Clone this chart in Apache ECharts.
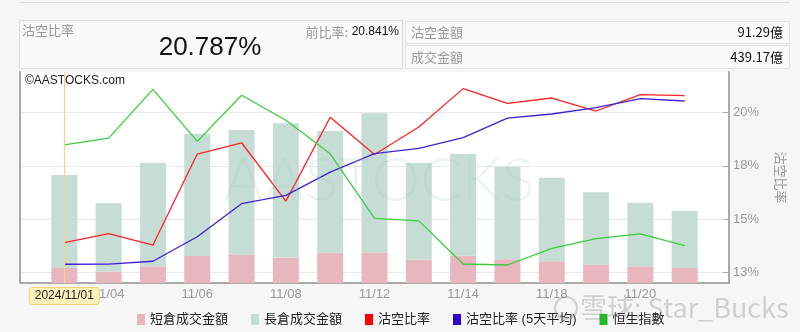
<!DOCTYPE html>
<html>
<head>
<meta charset="utf-8">
<script src="https://cdn.jsdelivr.net/npm/echarts@6/dist/echarts.min.js"></script>
<style>
  html, body { margin: 0; padding: 0; background: #f6f6f6; }
  #main { width: 800px; height: 332px; }
</style>
</head>
<body>
<div id="main"></div>
<script>
// 日期
var dates = ['11/01', '11/04', '11/05', '11/06', '11/07', '11/08', '11/11', '11/12', '11/13', '11/14', '11/15', '11/18', '11/19', '11/20', '11/21'];
// 短倉 / 長倉成交金額 (億)
var shortAmt = [92, 70, 102, 165, 173, 155, 184, 187, 142, 166, 145, 133, 111, 102, 91.29];
var longAmt = [567, 416, 632, 746, 760, 819, 743, 848, 592, 621, 564, 509, 442, 388, 347.88];
// 沽空比率 (%)
var shortRatio = [13.89, 14.32, 13.78, 18.05, 18.58, 15.84, 19.78, 18.03, 19.32, 21.12, 20.43, 20.68, 20.07, 20.841, 20.787];
// 沽空比率 5天平均 (%)
var ratioAvg5 = [12.88, 12.89, 13.02, 14.17, 15.72, 16.11, 17.20, 18.07, 18.32, 18.82, 19.74, 19.93, 20.23, 20.65, 20.54];
// 恒生指數
var hsi = [20506, 20567, 21006, 20538, 20953, 20728, 20426, 19846, 19823, 19435, 19426, 19576, 19663, 19705, 19601];
// 右軸刻度
var ratioTicks = [12.5, 15, 17.5, 20];

var chart = echarts.init(document.getElementById('main'));

// 前後各留一格空位
var cats = [''].concat(dates, [' ']);
function pad(arr) {
  return ['-'].concat(arr, ['-']);
}

var n = dates.length;
var lastRatio = shortRatio[n - 1].toFixed(3) + '%';
var prevRatio = shortRatio[n - 2].toFixed(3) + '%';
var lastShort = shortAmt[n - 1].toFixed(2) + '億';
var lastTotal = (shortAmt[n - 1] + longAmt[n - 1]).toFixed(2) + '億';

var cjk = "'Noto Sans CJK TC', 'Noto Sans', sans-serif";
var mixed = "'Liberation Sans', 'Noto Sans CJK TC', sans-serif";
var gray = '#999';

var option = {
  backgroundColor: '#f6f6f6',
  animation: false,
  textStyle: { fontFamily: cjk },
  grid: {
    left: 20,
    right: 71,
    top: 72,
    bottom: 49,
    show: true,
    backgroundColor: '#fff',
    borderWidth: 0
  },
  legend: {
    left: 132,
    top: 308,
    icon: 'rect',
    itemWidth: 8,
    itemHeight: 11,
    itemGap: 23,
    textStyle: { fontSize: 13, color: '#222', fontFamily: mixed },
    data: ['短倉成交金額', '長倉成交金額', '沽空比率', '沽空比率 (5天平均)', '恒生指數']
  },
  xAxis: {
    type: 'category',
    data: cats,
    boundaryGap: false,
    axisLine: { lineStyle: { color: '#aaa', width: 2 } },
    axisTick: { show: false },
    axisLabel: { interval: 1, color: gray, fontSize: 13, margin: 5, fontFamily: 'Liberation Sans, sans-serif' },
    splitLine: { show: false },
    axisPointer: {
      show: true,
      type: 'line',
      status: 'show',
      value: cats.indexOf('11/01'),
      triggerTooltip: false,
      lineStyle: { color: '#fbd27c', width: 1.2, type: 'solid' },
      label: {
        show: true,
        formatter: function (p) {
          var v = typeof p.value === 'number' ? cats[p.value] : p.value;
          return '2024/' + v;
        },
        backgroundColor: '#fff1bd',
        borderColor: '#f6d27e',
        borderWidth: 1,
        color: '#222',
        fontSize: 12,
        padding: [2, 5],
        margin: 5,
        fontFamily: 'Liberation Sans, sans-serif'
      }
    }
  },
  yAxis: [{
    // 成交金額 (隱藏)
    type: 'value',
    position: 'left',
    min: 0,
    max: 1287,
    axisLine: { show: true, lineStyle: { color: '#aaa', width: 2 } },
    axisTick: { show: false },
    axisLabel: { show: false },
    splitLine: { show: false }
  }, {
    // 沽空比率
    type: 'value',
    position: 'right',
    min: 12,
    max: 21.9,
    name: '沽空比率',
    nameLocation: 'middle',
    nameRotate: -90,
    nameGap: 45,
    nameTextStyle: { color: gray, fontSize: 13, fontFamily: cjk },
    axisLine: { show: true, lineStyle: { color: '#aaa', width: 2 } },
    axisTick: { show: true, inside: true, length: 6, customValues: ratioTicks, lineStyle: { color: '#aaa' } },
    axisLabel: {
      customValues: ratioTicks,
      color: gray,
      fontSize: 13,
      margin: 4,
      fontFamily: 'Liberation Sans, sans-serif',
      formatter: function (v) { return Math.round(v) + '%'; }
    },
    splitLine: { show: true, lineStyle: { color: '#e8e8e8', width: 1 } }
  }, {
    // 恒生指數 (隱藏)
    type: 'value',
    show: false,
    min: 19264,
    max: 21162
  }],
  graphic: [
    { type: 'line', shape: { x1: 20, y1: 2.5, x2: 790, y2: 2.5 }, style: { stroke: '#ddd' } },
    { type: 'rect', shape: { x: 19.5, y: 20.5, width: 383, height: 48 }, style: { fill: '#f9f9f9', stroke: '#dcdcdc' } },
    { type: 'rect', shape: { x: 405.5, y: 21.5, width: 384, height: 22 }, style: { fill: '#f9f9f9', stroke: '#e2e2e2' } },
    { type: 'rect', shape: { x: 405.5, y: 45.5, width: 384, height: 23 }, style: { fill: '#f9f9f9', stroke: '#e2e2e2' } },
    { type: 'text', left: 22, top: 24, style: { text: '沽空比率', fill: gray, font: '13px ' + cjk } },
    { type: 'text', x: 210, y: 48, style: { text: lastRatio, fill: '#111', font: '26px Liberation Sans, sans-serif', align: 'center', verticalAlign: 'middle' } },
    { type: 'text', x: 399, y: 32, style: { text: prevRatio, fill: '#111', font: '12px Liberation Sans, sans-serif', align: 'right', verticalAlign: 'middle' } },
    { type: 'text', x: 348, y: 32, style: { text: '前比率:', fill: gray, font: '13px ' + cjk, align: 'right', verticalAlign: 'middle' } },
    { type: 'text', x: 411, y: 32, style: { text: '沽空金額', fill: gray, font: '13px ' + cjk, verticalAlign: 'middle' } },
    { type: 'text', x: 783, y: 32, style: { text: lastShort, fill: '#111', font: '13px ' + cjk, align: 'right', verticalAlign: 'middle' } },
    { type: 'text', x: 411, y: 57, style: { text: '成交金額', fill: gray, font: '13px ' + cjk, verticalAlign: 'middle' } },
    { type: 'text', x: 783, y: 57, style: { text: lastTotal, fill: '#111', font: '13px ' + cjk, align: 'right', verticalAlign: 'middle' } },
    { type: 'text', x: 25, y: 81, z: 10, style: { text: '©AASTOCKS.com', fill: '#222', font: '12px Liberation Sans, sans-serif', verticalAlign: 'middle' } },
    { type: 'text', x: 379, y: 181, z: 10, silent: true, style: { text: 'AASTOCKS', fill: 'rgba(170,200,200,0.22)', font: '300 62px Lato, sans-serif', align: 'center', verticalAlign: 'middle' } },
    { type: 'circle', shape: { cx: 566, cy: 308, r: 11 }, z: 10, style: { fill: 'none', stroke: 'rgba(120,120,120,0.3)', lineWidth: 2 } },
    { type: 'text', x: 580, y: 308, z: 10, style: { text: '雪球: Star_Bucks', fill: 'rgba(120,120,120,0.3)', font: '27px ' + cjk, verticalAlign: 'middle' } }
  ],
  series: [{
    name: '短倉成交金額',
    type: 'bar',
    stack: 'amt',
    yAxisIndex: 0,
    barWidth: 26,
    itemStyle: { color: '#e8b6bf' },
    data: pad(shortAmt)
  }, {
    name: '長倉成交金額',
    type: 'bar',
    stack: 'amt',
    yAxisIndex: 0,
    barWidth: 26,
    itemStyle: { color: '#c6ddd5' },
    data: pad(longAmt)
  }, {
    name: '沽空比率',
    type: 'line',
    yAxisIndex: 1,
    showSymbol: false,
    itemStyle: { color: '#ff0000' },
    lineStyle: { color: '#ff2222', width: 1.3 },
    data: pad(shortRatio)
  }, {
    name: '沽空比率 (5天平均)',
    type: 'line',
    yAxisIndex: 1,
    showSymbol: false,
    itemStyle: { color: '#3300cc' },
    lineStyle: { color: '#4020d0', width: 1.3 },
    data: pad(ratioAvg5)
  }, {
    name: '恒生指數',
    type: 'line',
    yAxisIndex: 2,
    showSymbol: false,
    itemStyle: { color: '#22bb22' },
    lineStyle: { color: '#3ccc3c', width: 1.3 },
    data: pad(hsi)
  }]
};

chart.setOption(option);
</script>
</body>
</html>
